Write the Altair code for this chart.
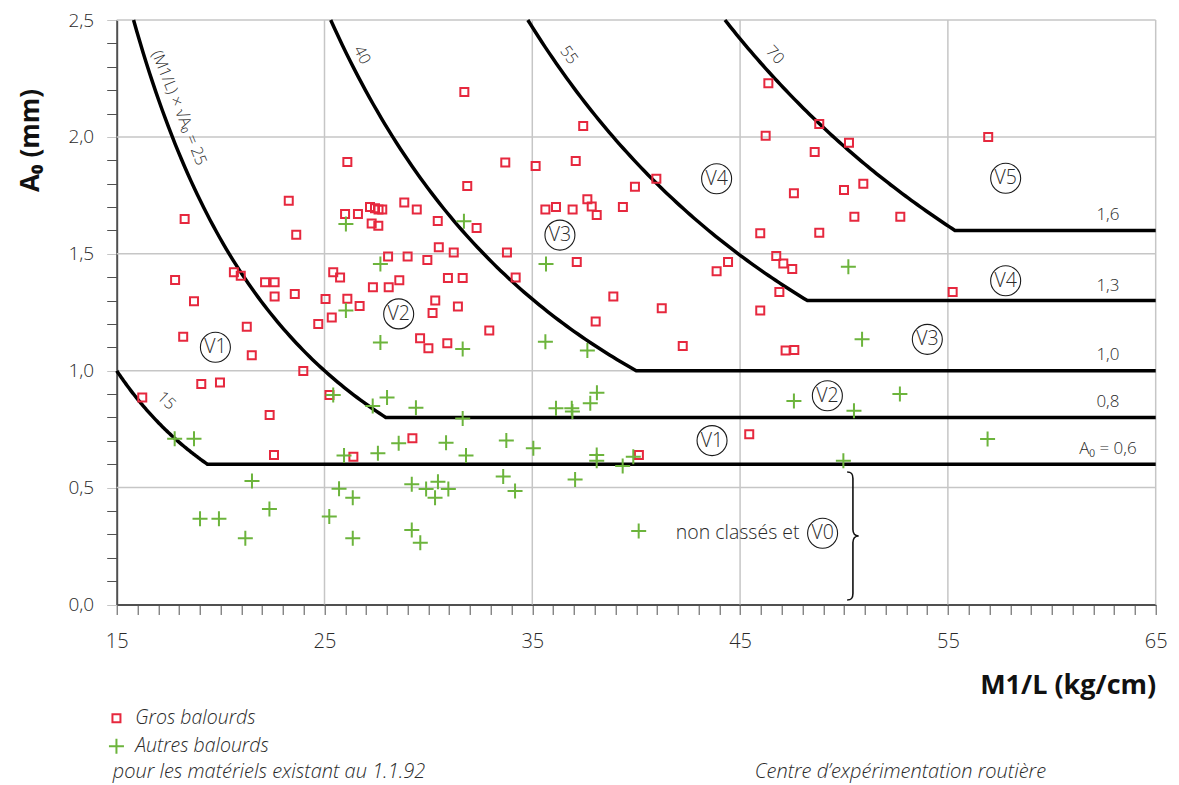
import numpy as np
import pandas as pd
import altair as alt

# ---------------- data ----------------
KINDS = ["Gros balourds", "Autres balourds"]

RED_X = [23.28, 18.27, 23.64, 17.81, 20.64, 20.97, 22.14, 22.60, 18.72, 22.60,
         23.57, 25.05, 25.35, 24.70, 21.26, 18.20, 21.50, 23.98, 19.07, 19.97,
         16.23, 25.24, 22.36, 22.57, 31.73, 26.10, 33.70, 31.87, 28.84, 29.44,
         25.99, 26.61, 27.19, 27.43, 27.60, 27.78, 27.27, 27.59, 30.45, 32.32,
         30.50, 31.22, 33.78, 28.06, 29.00, 29.95, 25.42, 25.75, 28.60, 27.33,
         28.09, 30.94, 31.65, 34.20, 26.10, 26.69, 30.33, 30.20, 31.42, 32.93,
         29.60, 30.00, 30.91, 29.23, 26.39, 37.45, 35.16, 37.09, 40.97, 39.94,
         37.65, 37.86, 38.10, 35.63, 36.14, 36.94, 39.36, 37.14, 44.42, 43.87,
         38.90, 41.23, 38.05, 42.24, 45.44, 40.13, 46.36, 48.81, 46.23, 50.24,
         48.59, 56.94, 47.59, 50.00, 50.93, 50.50, 52.71, 45.97, 48.81, 46.74,
         47.08, 47.51, 46.89, 45.97, 55.23, 47.19, 47.61]
RED_Y = [1.727, 1.649, 1.582, 1.388, 1.421, 1.406, 1.378, 1.378, 1.297, 1.317,
         1.328, 1.307, 1.228, 1.200, 1.188, 1.145, 1.066, 0.999, 0.943, 0.949,
         0.885, 0.896, 0.811, 0.639, 2.192, 1.893, 1.891, 1.790, 1.719, 1.689,
         1.670, 1.670, 1.700, 1.695, 1.690, 1.690, 1.630, 1.620, 1.640, 1.610,
         1.528, 1.506, 1.506, 1.488, 1.488, 1.473, 1.421, 1.399, 1.387, 1.357,
         1.357, 1.397, 1.397, 1.399, 1.308, 1.277, 1.300, 1.247, 1.275, 1.172,
         1.139, 1.096, 1.117, 0.711, 0.632, 2.047, 1.876, 1.897, 1.821, 1.787,
         1.733, 1.702, 1.666, 1.689, 1.700, 1.690, 1.700, 1.465, 1.465, 1.425,
         1.317, 1.267, 1.210, 1.106, 0.728, 0.639, 2.229, 2.055, 2.005, 1.975,
         1.935, 2.000, 1.759, 1.773, 1.800, 1.659, 1.659, 1.588, 1.590, 1.491,
         1.459, 1.435, 1.337, 1.257, 1.337, 1.086, 1.089]

GREEN_X = [17.79, 18.72, 21.51, 22.35, 19.01, 19.92, 21.19, 25.42, 25.23, 25.70,
           26.03, 31.71, 27.69, 26.03, 27.69, 31.65, 27.32, 28.01, 29.40, 31.65,
           28.57, 30.85, 33.75, 35.05, 25.94, 27.57, 31.81, 26.36, 26.36, 29.20,
           29.89, 30.46, 30.32, 30.96, 33.60, 34.17, 29.20, 29.61, 35.66, 35.63,
           37.65, 38.11, 37.79, 36.14, 36.90, 36.93, 38.10, 38.10, 39.35, 39.86,
           37.06, 40.12, 50.21, 50.87, 47.59, 52.69, 50.48, 56.91, 49.97]
GREEN_Y = [0.709, 0.709, 0.528, 0.408, 0.367, 0.367, 0.283, 0.896, 0.376, 0.495,
           1.627, 1.639, 1.456, 1.257, 1.121, 1.093, 0.849, 0.885, 0.842, 0.796,
           0.690, 0.692, 0.701, 0.668, 0.637, 0.647, 0.637, 0.457, 0.283, 0.514,
           0.494, 0.525, 0.457, 0.494, 0.547, 0.485, 0.319, 0.264, 1.456, 1.124,
           1.086, 0.906, 0.861, 0.839, 0.839, 0.825, 0.639, 0.615, 0.592, 0.632,
           0.535, 0.314, 1.445, 1.134, 0.870, 0.900, 0.829, 0.708, 0.615]

# limit curves (M1/L) x sqrt(A0) = K, with a floor value of A0
CURVE_K = [15, 25, 40, 55, 70]
CURVE_FLOOR = [0.6, 0.8, 1.0, 1.3, 1.6]

CURVE_LABEL_TEXT = ["15", "(M1/L) × √A₀ = 25", "40", "55", "70"]
CURVE_LABEL_X = [17.39, 18.0, 26.8, 36.76, 46.68]
CURVE_LABEL_Y = [0.872, 2.124, 2.35, 2.35, 2.35]
CURVE_LABEL_ANGLE = [44, 68, 62, 54, 47]

FLOOR_TEXT = ["1,6", "1,3", "1,0", "0,8", "A₀ = 0,6"]
FLOOR_X = [62.7, 62.7, 62.7, 62.7, 62.7]
FLOOR_Y = [1.666, 1.362, 1.068, 0.867, 0.665]

CLASS_TEXT = ["V1", "V2", "V3", "V4", "V5", "V4", "V3", "V2", "V1", "V0"]
CLASS_X = [19.75, 28.57, 36.33, 43.87, 57.78, 57.78, 54.01, 49.20, 43.65, 48.97]
CLASS_Y = [1.100, 1.243, 1.580, 1.821, 1.823, 1.385, 1.134, 0.893, 0.701, 0.305]

NOTE_UNCLASSED = "non classés et"
NOTE_UNCLASSED_X = [47.86]
NOTE_UNCLASSED_Y = [0.305]

BRACE_X = [50.43]
BRACE_Y = [0.293]

X_GRID = [25, 35, 45, 55, 65]
Y_GRID = [0.5, 1.0, 1.5, 2.0, 2.5]
X_TICKS = list(range(15, 66))
Y_TICKS = [round(i * 0.1, 1) for i in range(26)]

FOOT_LEFT = "pour les matériels existant au 1.1.92"
FOOT_RIGHT = "Centre d’expérimentation routière"

# ---------------- tables ----------------
points = pd.DataFrame({
    "x": RED_X + GREEN_X,
    "y": RED_Y + GREEN_Y,
    "kind": [KINDS[0]] * len(RED_X) + [KINDS[1]] * len(GREEN_X),
})

rows = []
for k, fl in zip(CURVE_K, CURVE_FLOOR):
    x_start = max(15.0, k / np.sqrt(2.5))
    x_knee = k / np.sqrt(fl)
    for i, xv in enumerate(np.linspace(x_start, x_knee, 80)):
        rows.append({"k": k, "o": i, "x": xv, "y": (k / xv) ** 2})
    rows.append({"k": k, "o": 80, "x": 65.0, "y": fl})
curves = pd.DataFrame(rows)

curve_labels = pd.DataFrame({"x": CURVE_LABEL_X, "y": CURVE_LABEL_Y,
                             "t": CURVE_LABEL_TEXT, "a": CURVE_LABEL_ANGLE})
floor_labels = pd.DataFrame({"x": FLOOR_X, "y": FLOOR_Y, "t": FLOOR_TEXT})
classes = pd.DataFrame({"x": CLASS_X, "y": CLASS_Y, "t": CLASS_TEXT})
unclassed = pd.DataFrame({"x": NOTE_UNCLASSED_X, "y": NOTE_UNCLASSED_Y, "t": [NOTE_UNCLASSED]})
brace = pd.DataFrame({"x": BRACE_X, "y": BRACE_Y})
xgrid = pd.DataFrame({"x": X_GRID})
ygrid = pd.DataFrame({"y": Y_GRID})
foot = pd.DataFrame({"a": [FOOT_LEFT], "b": [FOOT_RIGHT]})

# ---------------- style ----------------
W, H = 1039, 584.5
FONT = "Open Sans"
TXT = "#2a2a2a"
RED = "#e6283e"
GREEN = "#6cb43c"
GRID = "#c6c6c6"
AX = "#505050"
LIGHT = 300

xs = alt.Scale(domain=[15, 65], nice=False, zero=False)
ys = alt.Scale(domain=[0, 2.5], nice=False, zero=False)

major_y_test = "abs(datum.value * 2 - round(datum.value * 2)) < 0.001"

x_axis = alt.Axis(
    values=X_TICKS,
    labelExpr="datum.value % 10 == 5 ? format(datum.value, 'd') : ''",
    labelFont=FONT, labelFontSize=20, labelFontWeight=LIGHT, labelColor=TXT, labelPadding=17,
    labelFlush=False, labelOverlap=False,
    grid=False, domainColor=AX, domainWidth=2,
    tickColor=AX, tickSize=10, tickWidth=1,
    title="M1/L (kg/cm)", titleFont=FONT, titleFontSize=27, titleFontWeight="bold",
    titleColor="#111", titleAnchor="end", titleAlign="right",
    titleX=W, titleY=81, titleBaseline="middle",
)
y_axis = alt.Axis(
    values=Y_TICKS,
    labelExpr=major_y_test + " ? replace(format(datum.value, '.1f'), '.', ',') : ''",
    labelFont=FONT, labelFontSize=19, labelFontWeight=LIGHT, labelColor=TXT, labelPadding=13,
    labelFlush=False, labelOverlap=False,
    grid=False, domainColor=AX, domainWidth=2,
    tickColor={"condition": {"test": major_y_test, "value": GRID}, "value": AX},
    tickSize=10, tickWidth=1,
    title="A₀ (mm)", titleFont=FONT, titleFontSize=26, titleFontWeight="bold",
    titleColor="#111", titleAngle=270, titleAlign="center", titleBaseline="middle",
    titleX=-86, titleY=120,
)

X = alt.X("x:Q", scale=xs, axis=x_axis)
Y = alt.Y("y:Q", scale=ys, axis=y_axis)

grid_x = alt.Chart(xgrid).mark_rule(color=GRID, strokeWidth=1.5).encode(x=alt.X("x:Q", scale=xs, axis=x_axis))
grid_y = alt.Chart(ygrid).mark_rule(color=GRID, strokeWidth=1.5).encode(y=alt.Y("y:Q", scale=ys, axis=y_axis))

lines = alt.Chart(curves).mark_line(color="black", strokeWidth=3.5, strokeJoin="round").encode(
    x=X, y=Y, detail="k:N", order="o:Q")

leg = alt.Legend(
    title=None, orient="none", legendX=-10, legendY=688.5, direction="vertical",
    labelFont=FONT, labelFontSize=19.5, labelFontStyle="italic", labelFontWeight=LIGHT, labelColor=TXT,
    labelOffset=9, rowPadding=6, padding=0, symbolStrokeWidth=2,
)
CROSS = "M-1,0L1,0M0,-1L0,1"
scatter = alt.Chart(points).mark_point(filled=False, strokeWidth=2, opacity=1).encode(
    x=X, y=Y,
    color=alt.Color("kind:N", scale=alt.Scale(domain=KINDS, range=[RED, GREEN]), legend=leg),
    shape=alt.Shape("kind:N", scale=alt.Scale(domain=KINDS, range=["square", CROSS]), legend=leg),
    size=alt.Size("kind:N", scale=alt.Scale(domain=KINDS, range=[64, 225]), legend=leg),
)

clabels = alt.Chart(curve_labels).mark_text(font=FONT, fontSize=16, fontWeight=LIGHT, color=TXT,
                                            align="center", baseline="middle").encode(
    x=X, y=Y, text="t:N", angle=alt.Angle("a:Q", scale=None))

flabels = alt.Chart(floor_labels).mark_text(font=FONT, fontSize=17, fontWeight=LIGHT, color=TXT,
                                            align="center", baseline="middle").encode(x=X, y=Y, text="t:N")

circles = alt.Chart(classes).mark_point(shape="circle", size=900, filled=False, color="#1a1a1a",
                                        strokeWidth=1.1, opacity=1).encode(x=X, y=Y)
ctext = alt.Chart(classes).mark_text(font=FONT, fontSize=19.5, fontWeight=LIGHT, color=TXT,
                                     align="center", baseline="middle").encode(x=X, y=Y, text="t:N")

untext = alt.Chart(unclassed).mark_text(font=FONT, fontSize=19.5, fontWeight=LIGHT, color=TXT,
                                        align="right", baseline="middle").encode(x=X, y=Y, text="t:N")

BRACE_PATH = ("M-0.09,-1 C-0.02,-1 0,-0.97 0,-0.9 L0,-0.1 C0,-0.04 0.03,0 0.09,0 "
              "C0.03,0 0,0.04 0,0.1 L0,0.9 C0,0.97 -0.02,1 -0.09,1")
brace_mark = alt.Chart(brace).mark_point(shape=BRACE_PATH, size=16384, filled=False,
                                         color="#111", strokeWidth=1.6, opacity=1).encode(x=X, y=Y)

foot_left = alt.Chart(foot).mark_text(font=FONT, fontSize=20, fontStyle="italic", fontWeight=LIGHT,
                                      color=TXT, align="left", baseline="middle").encode(
    x=alt.value(-4), y=alt.value(752), text="a:N")
foot_right = alt.Chart(foot).mark_text(font=FONT, fontSize=20, fontStyle="italic", fontWeight=LIGHT,
                                       color=TXT, align="left", baseline="middle").encode(
    x=alt.value(638), y=alt.value(752), text="b:N")

chart = alt.layer(
    grid_x, grid_y, lines, scatter, clabels, flabels, circles, ctext, untext, brace_mark,
    foot_left, foot_right,
).properties(
    width=W, height=H,
    autosize=alt.AutoSizeParams(type="none"),
    padding={"left": 108.7, "top": 12, "right": 15, "bottom": 186},
    background="white",
).configure_view(stroke="transparent")

chart.save("out.html", embed_options={"renderer": "svg", "actions": False})
